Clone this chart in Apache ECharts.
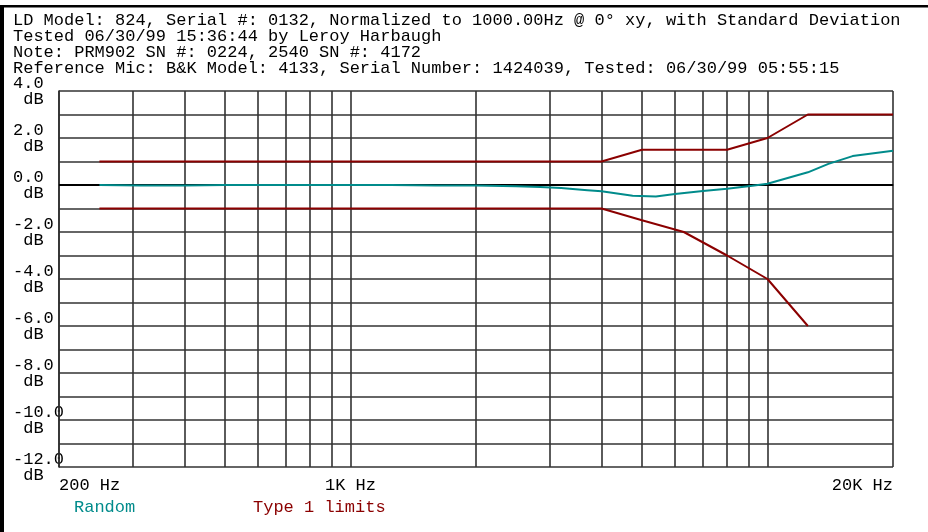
<!DOCTYPE html>
<html>
<head>
<meta charset="utf-8">
<script src="https://cdn.jsdelivr.net/npm/echarts@6/dist/echarts.min.js"></script>
<style>
  html, body { margin: 0; padding: 0; background: #fff; }
  #chart { width: 928px; height: 532px; }
</style>
</head>
<body>
<div id="chart"></div>
<script>
const FONT = '"Liberation Mono", "Courier New", monospace'

const headerLines = [
  'LD Model: 824, Serial #: 0132, Normalized to 1000.00Hz @ 0\u00b0 xy, with Standard Deviation',
  'Tested 06/30/99 15:36:44 by Leroy Harbaugh',
  'Note: PRM902 SN #: 0224, 2540 SN #: 4172',
  'Reference Mic: B&K Model: 4133, Serial Number: 1424039, Tested: 06/30/99 05:55:15'
]

// frequency grid lines (Hz)
const gridFreqs = [200, 300, 400, 500, 600, 700, 800, 900, 1000,
  2000, 3000, 4000, 5000, 6000, 7000, 8000, 9000, 10000, 20000]
const tickFreqs = [200, 1000, 20000]
const tickLabels = { 200: '200 Hz', 1000: '1K Hz', 20000: '20K Hz' }

// measured response (Hz, dB)
const randomFreq = [250, 315, 400, 500, 630, 800, 1000, 1250, 1600, 2000, 2500, 2850, 3200,
  3700, 4000, 4750, 5400, 6000, 7000, 8000, 9200, 10000, 12500, 14000, 16000, 20000]
const randomDb = [0, -0.02, -0.02, 0, 0, 0, 0, 0, -0.02, -0.02, -0.05, -0.08, -0.13,
  -0.22, -0.27, -0.46, -0.49, -0.38, -0.26, -0.16, -0.03, 0.05, 0.54, 0.9, 1.23, 1.46]

// Type 1 tolerance limits
const upperFreq = [250, 4000, 5000, 8000, 10000, 12500, 20000]
const upperDb = [1, 1, 1.5, 1.5, 2, 3, 3]
const lowerFreq = [250, 4000, 5000, 6300, 8000, 10000, 12500]
const lowerDb = [-1, -1, -1.5, -2, -3, -4, -6]

const zip = (xs, ys) => xs.map((x, i) => [x, ys[i]])

const chart = echarts.init(document.getElementById('chart'))

chart.setOption({
  animation: false,
  backgroundColor: '#fff',
  textStyle: { fontFamily: FONT },
  title: {
    text: headerLines.join('\n'),
    left: 13,
    top: 12,
    padding: 0,
    textStyle: {
      fontFamily: FONT,
      fontSize: 17,
      fontWeight: 'normal',
      color: '#000',
      lineHeight: 16
    }
  },
  grid: {
    left: 59,
    right: 35,
    top: 91,
    height: 376
  },
  xAxis: {
    type: 'log',
    logBase: 10,
    min: 200,
    max: 20000,
    axisLine: { show: true, lineStyle: { color: '#222', width: 1.6 } },
    axisTick: { show: false },
    splitLine: { show: false },
    axisLabel: {
      customValues: tickFreqs,
      formatter: v => tickLabels[Math.round(v)] || '',
      fontFamily: FONT,
      fontSize: 17,
      color: '#000',
      margin: 10,
      alignMinLabel: 'left',
      alignMaxLabel: 'right'
    }
  },
  yAxis: {
    type: 'value',
    min: -12,
    max: 4,
    interval: 1,
    axisLine: { show: true, lineStyle: { color: '#222', width: 1.6 } },
    axisTick: { show: false },
    splitLine: { show: true, lineStyle: { color: '#333', width: 1.6 } },
    axisLabel: {
      formatter: v => (v % 2 === 0 ? v.toFixed(1) + '\n dB' : ''),
      align: 'left',
      margin: 46,
      fontFamily: FONT,
      fontSize: 17,
      lineHeight: 16,
      color: '#000'
    }
  },
  graphic: [
    { type: 'rect', shape: { x: 0, y: 5, width: 928, height: 2.5 }, style: { fill: '#000' } },
    { type: 'rect', shape: { x: 0, y: 5, width: 4, height: 527 }, style: { fill: '#000' } },
    {
      type: 'text', left: 74, top: 499,
      style: { text: 'Random', fill: '#008b8b', font: '17px ' + FONT }
    },
    {
      type: 'text', left: 253, top: 499,
      style: { text: 'Type 1 limits', fill: '#8b0000', font: '17px ' + FONT }
    }
  ],
  series: [
    {
      name: 'grid',
      type: 'line',
      data: [],
      silent: true,
      markLine: {
        silent: true,
        z: 1,
        symbol: 'none',
        label: { show: false },
        lineStyle: { color: '#333', width: 1.6, type: 'solid' },
        data: gridFreqs.map(f => ({ xAxis: f }))
          .concat([{ yAxis: 0, lineStyle: { color: '#000', width: 2.2 } }])
      }
    },
    {
      name: 'Type 1 limits',
      type: 'line',
      z: 3,
      data: zip(upperFreq, upperDb),
      showSymbol: false,
      lineStyle: { color: '#8b0000', width: 2 },
      itemStyle: { color: '#8b0000' }
    },
    {
      name: 'Type 1 limits',
      type: 'line',
      z: 3,
      data: zip(lowerFreq, lowerDb),
      showSymbol: false,
      lineStyle: { color: '#8b0000', width: 2 },
      itemStyle: { color: '#8b0000' }
    },
    {
      name: 'Random',
      type: 'line',
      z: 4,
      data: zip(randomFreq, randomDb),
      showSymbol: false,
      lineStyle: { color: '#008b8b', width: 2 },
      itemStyle: { color: '#008b8b' }
    }
  ]
})
</script>
</body>
</html>
